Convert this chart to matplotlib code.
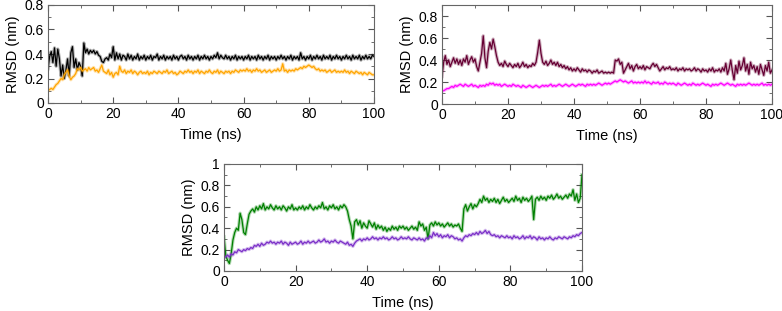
import numpy as np
import matplotlib
matplotlib.use("Agg")
import matplotlib.pyplot as plt
from matplotlib.ticker import MultipleLocator

plt.rcParams['font.family'] = ['Liberation Sans', 'DejaVu Sans']

# time axis, 0.5 ns steps
time_ns = np.arange(0, 100.5, 0.5)

# panel 1
rmsd_black = [
    0.28, 0.38, 0.42, 0.33, 0.45, 0.30, 0.44, 0.36, 0.22, 0.31,
    0.20, 0.27, 0.36, 0.22, 0.41, 0.46, 0.29, 0.36, 0.27, 0.33,
    0.30, 0.22, 0.49, 0.41, 0.44, 0.40, 0.43, 0.41, 0.43, 0.40,
    0.42, 0.39, 0.38, 0.34, 0.33, 0.36, 0.37, 0.35, 0.40, 0.37,
    0.46, 0.35, 0.41, 0.36, 0.40, 0.35, 0.39, 0.38, 0.35, 0.40,
    0.36, 0.39, 0.35, 0.38, 0.36, 0.40, 0.35, 0.38, 0.36, 0.39,
    0.35, 0.38, 0.36, 0.39, 0.35, 0.38, 0.37, 0.40, 0.35, 0.38,
    0.36, 0.39, 0.35, 0.38, 0.36, 0.38, 0.35, 0.39, 0.36, 0.38,
    0.35, 0.38, 0.39, 0.36, 0.38, 0.35, 0.39, 0.36, 0.38, 0.35,
    0.38, 0.36, 0.39, 0.35, 0.38, 0.36, 0.39, 0.36, 0.38, 0.35,
    0.38, 0.36, 0.39, 0.37, 0.41, 0.36, 0.39, 0.37, 0.36, 0.39,
    0.36, 0.38, 0.35, 0.38, 0.36, 0.39, 0.35, 0.38, 0.36, 0.38,
    0.35, 0.38, 0.36, 0.39, 0.35, 0.38, 0.36, 0.38, 0.35, 0.39,
    0.36, 0.38, 0.35, 0.38, 0.36, 0.39, 0.35, 0.38, 0.36, 0.38,
    0.35, 0.38, 0.36, 0.39, 0.36, 0.38, 0.35, 0.38, 0.36, 0.39,
    0.35, 0.38, 0.36, 0.38, 0.35, 0.41, 0.36, 0.38, 0.35, 0.38,
    0.36, 0.39, 0.35, 0.38, 0.36, 0.39, 0.36, 0.38, 0.35, 0.39,
    0.36, 0.38, 0.36, 0.39, 0.35, 0.38, 0.36, 0.39, 0.36, 0.38,
    0.35, 0.38, 0.36, 0.39, 0.36, 0.38, 0.35, 0.39, 0.36, 0.38,
    0.36, 0.39, 0.35, 0.38, 0.36, 0.39, 0.36, 0.38, 0.36, 0.39,
    0.38,
]
rmsd_orange = [
    0.10, 0.11, 0.12, 0.11, 0.13, 0.15, 0.16, 0.18, 0.20, 0.19,
    0.23, 0.25, 0.27, 0.22, 0.19, 0.21, 0.22, 0.24, 0.28, 0.27,
    0.29, 0.26, 0.27, 0.28, 0.26, 0.29, 0.27, 0.28, 0.29, 0.26,
    0.27, 0.25, 0.28, 0.31, 0.26, 0.25, 0.24, 0.27, 0.23, 0.25,
    0.21, 0.24, 0.25, 0.23, 0.30, 0.26, 0.25, 0.27, 0.24, 0.26,
    0.25, 0.27, 0.24, 0.26, 0.25, 0.23, 0.25, 0.26, 0.24, 0.25,
    0.24, 0.26, 0.23, 0.25, 0.24, 0.26, 0.25, 0.24, 0.26, 0.25,
    0.24, 0.26, 0.25, 0.27, 0.24, 0.25, 0.26, 0.24, 0.25, 0.23,
    0.24, 0.26, 0.25, 0.24, 0.26, 0.25, 0.27, 0.25, 0.26, 0.24,
    0.26, 0.25, 0.27, 0.24, 0.26, 0.25, 0.24, 0.26, 0.25, 0.27,
    0.25, 0.24, 0.26, 0.25, 0.27, 0.24, 0.26, 0.25, 0.24, 0.26,
    0.25, 0.26, 0.24, 0.26, 0.25, 0.27, 0.26, 0.25, 0.27, 0.26,
    0.27, 0.26, 0.28, 0.26, 0.27, 0.25, 0.27, 0.26, 0.28, 0.26,
    0.27, 0.25, 0.26, 0.27, 0.25, 0.26, 0.27, 0.25, 0.26, 0.27,
    0.26, 0.28, 0.26, 0.27, 0.32, 0.26, 0.27, 0.25, 0.27, 0.26,
    0.27, 0.26, 0.28, 0.27, 0.28, 0.29, 0.28, 0.30, 0.29, 0.30,
    0.31, 0.30, 0.29, 0.30, 0.28, 0.27, 0.28, 0.26, 0.27, 0.26,
    0.27, 0.25, 0.26, 0.27, 0.25, 0.26, 0.27, 0.25, 0.26, 0.25,
    0.26, 0.25, 0.27, 0.25, 0.26, 0.24, 0.26, 0.25, 0.24, 0.26,
    0.25, 0.24, 0.25, 0.23, 0.25, 0.24, 0.23, 0.25, 0.24, 0.23,
    0.23,
]

# panel 2
rmsd_maroon = [
    0.25, 0.38, 0.44, 0.36, 0.40, 0.34, 0.38, 0.42, 0.37, 0.41,
    0.36, 0.40, 0.35, 0.41, 0.38, 0.44, 0.36, 0.40, 0.43, 0.38,
    0.41, 0.34, 0.30, 0.38, 0.46, 0.62, 0.42, 0.33, 0.48, 0.56,
    0.50, 0.59, 0.52, 0.44, 0.38, 0.35, 0.37, 0.34, 0.39, 0.36,
    0.34, 0.37, 0.35, 0.33, 0.36, 0.34, 0.37, 0.33, 0.35, 0.38,
    0.34, 0.36, 0.33, 0.35, 0.34, 0.37, 0.35, 0.38, 0.47, 0.58,
    0.46, 0.38, 0.36, 0.39, 0.35, 0.37, 0.40, 0.36, 0.38, 0.35,
    0.38, 0.34, 0.36, 0.33, 0.35, 0.32, 0.34, 0.31, 0.33, 0.30,
    0.32, 0.30, 0.33, 0.31, 0.29, 0.32, 0.30, 0.31, 0.29, 0.31,
    0.30, 0.28, 0.30, 0.29, 0.31, 0.28, 0.29, 0.30, 0.28, 0.29,
    0.28, 0.29, 0.28, 0.29, 0.28, 0.40, 0.39, 0.41, 0.36, 0.38,
    0.28, 0.31, 0.34, 0.37, 0.32, 0.35, 0.30, 0.34, 0.36, 0.32,
    0.34, 0.32, 0.35, 0.31, 0.34, 0.33, 0.32, 0.35, 0.37, 0.34,
    0.36, 0.33, 0.30, 0.32, 0.34, 0.31, 0.33, 0.32, 0.34, 0.31,
    0.32, 0.31, 0.33, 0.30, 0.32, 0.31, 0.33, 0.30, 0.32, 0.31,
    0.32, 0.30, 0.31, 0.33, 0.30, 0.32, 0.31, 0.29, 0.32, 0.30,
    0.31, 0.29, 0.32, 0.30, 0.33, 0.29, 0.31, 0.30, 0.32, 0.29,
    0.33, 0.30, 0.37, 0.27, 0.32, 0.40, 0.30, 0.22, 0.35, 0.28,
    0.39, 0.31, 0.35, 0.42, 0.30, 0.36, 0.27, 0.38, 0.32, 0.35,
    0.29, 0.34, 0.27, 0.36, 0.31, 0.26, 0.35, 0.30, 0.38, 0.28,
    0.31,
]
rmsd_magenta = [
    0.12, 0.12, 0.13, 0.14, 0.14, 0.15, 0.16, 0.15, 0.17, 0.16,
    0.17, 0.18, 0.17, 0.16, 0.18, 0.17, 0.16, 0.17, 0.18, 0.16,
    0.17, 0.16, 0.15, 0.17, 0.16, 0.17, 0.16, 0.18, 0.17, 0.19,
    0.18, 0.19, 0.17, 0.18, 0.17, 0.18, 0.16, 0.17, 0.18, 0.17,
    0.16, 0.17, 0.16, 0.18, 0.17, 0.16, 0.17, 0.16, 0.15, 0.17,
    0.16, 0.15, 0.16, 0.17, 0.16, 0.15, 0.16, 0.17, 0.16, 0.15,
    0.16, 0.17, 0.16, 0.17, 0.16, 0.17, 0.18, 0.16, 0.17, 0.16,
    0.17, 0.18, 0.17, 0.16, 0.17, 0.18, 0.17, 0.16, 0.17, 0.18,
    0.17, 0.16, 0.17, 0.18, 0.17, 0.18, 0.17, 0.16, 0.18, 0.17,
    0.18, 0.17, 0.18, 0.17, 0.18, 0.19, 0.18, 0.17, 0.18, 0.19,
    0.18, 0.19, 0.18, 0.19, 0.20, 0.21, 0.20, 0.21, 0.22, 0.21,
    0.20, 0.21, 0.20, 0.19, 0.20, 0.21, 0.19, 0.20, 0.19, 0.20,
    0.19, 0.20, 0.19, 0.21, 0.19, 0.20, 0.19, 0.18, 0.20, 0.19,
    0.19, 0.20, 0.18, 0.19, 0.18, 0.20, 0.19, 0.18, 0.19, 0.18,
    0.19, 0.18, 0.17, 0.19, 0.18, 0.17, 0.18, 0.19, 0.18, 0.17,
    0.18, 0.17, 0.19, 0.18, 0.17, 0.18, 0.17, 0.18, 0.19, 0.18,
    0.17, 0.18, 0.17, 0.16, 0.18, 0.17, 0.18, 0.17, 0.18, 0.19,
    0.18, 0.17, 0.18, 0.19, 0.18, 0.17, 0.18, 0.17, 0.16, 0.18,
    0.17, 0.18, 0.17, 0.18, 0.17, 0.18, 0.19, 0.18, 0.17, 0.18,
    0.17, 0.18, 0.17, 0.18, 0.19, 0.17, 0.18, 0.17, 0.18, 0.17,
    0.18,
]

# panel 3
rmsd_green = [
    0.32, 0.14, 0.10, 0.07, 0.16, 0.29, 0.36, 0.40, 0.38, 0.54,
    0.48, 0.36, 0.34, 0.44, 0.53, 0.56, 0.58, 0.55, 0.60, 0.57,
    0.61, 0.58, 0.63, 0.57, 0.60, 0.58, 0.62, 0.59, 0.57, 0.61,
    0.58, 0.60, 0.57, 0.61, 0.59, 0.56, 0.60, 0.58, 0.62, 0.57,
    0.59, 0.57, 0.60, 0.58, 0.61, 0.57, 0.60, 0.58, 0.62, 0.59,
    0.57, 0.60, 0.58, 0.61, 0.59, 0.64, 0.58, 0.60, 0.57, 0.61,
    0.59, 0.62, 0.58, 0.60, 0.57, 0.61, 0.59, 0.62, 0.60, 0.56,
    0.48, 0.42, 0.30, 0.46, 0.48, 0.43, 0.47, 0.40, 0.45, 0.42,
    0.40, 0.47, 0.44, 0.41, 0.45, 0.39, 0.43, 0.40, 0.42, 0.38,
    0.41, 0.37, 0.40, 0.38, 0.42, 0.39, 0.41, 0.38, 0.42, 0.40,
    0.42, 0.39, 0.41, 0.38, 0.40, 0.42, 0.39, 0.41, 0.38, 0.46,
    0.42, 0.44, 0.38, 0.41, 0.30, 0.43, 0.45, 0.42, 0.46, 0.43,
    0.45, 0.42, 0.44, 0.41, 0.43, 0.45, 0.42, 0.44, 0.41, 0.43,
    0.42, 0.44, 0.40, 0.37, 0.58, 0.62, 0.56, 0.60, 0.63, 0.58,
    0.62, 0.60, 0.63, 0.67, 0.64, 0.70, 0.66, 0.68, 0.64, 0.67,
    0.65, 0.68, 0.64, 0.67, 0.63, 0.66, 0.69, 0.65, 0.67, 0.64,
    0.66, 0.68, 0.65, 0.70, 0.66, 0.68, 0.64, 0.69, 0.66, 0.68,
    0.65, 0.67, 0.70, 0.48, 0.67, 0.69, 0.66, 0.70, 0.67, 0.69,
    0.66, 0.70, 0.68, 0.71, 0.67, 0.69, 0.72, 0.68, 0.70, 0.67,
    0.69, 0.71, 0.68, 0.72, 0.70, 0.76, 0.66, 0.72, 0.64, 0.68,
    0.90,
]
rmsd_purple = [
    0.14, 0.13, 0.15, 0.13, 0.16, 0.15, 0.18, 0.17, 0.20, 0.19,
    0.18, 0.20, 0.19, 0.21, 0.20, 0.22, 0.21, 0.24, 0.23, 0.25,
    0.23, 0.26, 0.24, 0.25, 0.27, 0.26, 0.28, 0.26, 0.27, 0.25,
    0.27, 0.26, 0.28, 0.25, 0.27, 0.26, 0.24, 0.27, 0.25, 0.26,
    0.27, 0.25, 0.26, 0.28, 0.25, 0.27, 0.26, 0.28, 0.26, 0.27,
    0.28, 0.26, 0.27, 0.29, 0.27, 0.28, 0.30, 0.27, 0.28, 0.26,
    0.28, 0.27, 0.29, 0.27, 0.26, 0.28, 0.27, 0.26, 0.25, 0.27,
    0.24, 0.25, 0.23, 0.26, 0.28, 0.29, 0.30, 0.28, 0.30, 0.29,
    0.31, 0.29, 0.30, 0.32, 0.30, 0.31, 0.29, 0.31, 0.30, 0.32,
    0.30, 0.31, 0.29, 0.30, 0.32, 0.30, 0.31, 0.29, 0.30, 0.32,
    0.30, 0.31, 0.30, 0.32, 0.30, 0.29, 0.31, 0.30, 0.29, 0.31,
    0.29, 0.30, 0.28, 0.31, 0.30, 0.33, 0.31, 0.36, 0.33, 0.35,
    0.32, 0.34, 0.31, 0.33, 0.32, 0.34, 0.31, 0.33, 0.32, 0.30,
    0.31, 0.29, 0.30, 0.28, 0.31, 0.33, 0.32, 0.34, 0.33, 0.35,
    0.34, 0.36, 0.34, 0.37, 0.35, 0.36, 0.38, 0.35, 0.37, 0.34,
    0.33, 0.34, 0.32, 0.33, 0.31, 0.33, 0.32, 0.31, 0.33, 0.31,
    0.32, 0.30, 0.33, 0.31, 0.32, 0.30, 0.31, 0.33, 0.30, 0.32,
    0.31, 0.33, 0.30, 0.32, 0.31, 0.29, 0.32, 0.30, 0.31, 0.29,
    0.31, 0.30, 0.32, 0.30, 0.29, 0.31, 0.30, 0.32, 0.31, 0.30,
    0.32, 0.31, 0.30, 0.32, 0.31, 0.33, 0.32, 0.34, 0.33, 0.35,
    0.36,
]


def etiqueta(v, pos):
    v = round(v, 2)
    if v == 0:
        return '0'
    if v == 1:
        return '1'
    return f'{v:.1f}'


def estilo(ax, ymax):
    ax.set_xlim(0, 100)
    ax.set_ylim(0, ymax)
    ax.xaxis.set_major_locator(MultipleLocator(20))
    ax.xaxis.set_minor_locator(MultipleLocator(10))
    ax.yaxis.set_major_locator(MultipleLocator(0.2))
    ax.yaxis.set_minor_locator(MultipleLocator(0.1))
    ax.tick_params(which='both', direction='in', top=True, right=True,
                   labelsize=10, color='#555555', pad=3)
    ax.tick_params(which='major', length=4)
    ax.tick_params(which='minor', length=2.5)
    for s in ax.spines.values():
        s.set_color('#666666')
        s.set_linewidth(0.8)
    ax.yaxis.set_major_formatter(plt.FuncFormatter(etiqueta))
    ax.set_xlabel('Time (ns)', fontsize=10.5, labelpad=5)
    ax.set_ylabel('RMSD (nm)', fontsize=10.5, labelpad=3)


def traza(ax, y, color):
    # halo claro + linea, como la traza densa del original
    ax.plot(time_ns, y, color=color, lw=2.4, alpha=0.3)
    ax.plot(time_ns, y, color=color, lw=0.9)


fig = plt.figure(figsize=(7.82, 3.11), dpi=100)

ax1 = fig.add_axes([48 / 782, 1 - 103 / 311, 326 / 782, 98 / 311])
traza(ax1, rmsd_black, 'black')
traza(ax1, rmsd_orange, '#FFA500')
estilo(ax1, 0.8)

ax2 = fig.add_axes([442 / 782, 1 - 104 / 311, 330 / 782, 99 / 311])
traza(ax2, rmsd_maroon, '#660033')
traza(ax2, rmsd_magenta, '#FF00FF')
estilo(ax2, 0.9)

ax3 = fig.add_axes([224 / 782, 1 - 271 / 311, 358 / 782, 107 / 311])
traza(ax3, rmsd_green, '#008000')
traza(ax3, rmsd_purple, '#7B2FC8')
estilo(ax3, 1.0)

fig.savefig('out.png', dpi=100)
